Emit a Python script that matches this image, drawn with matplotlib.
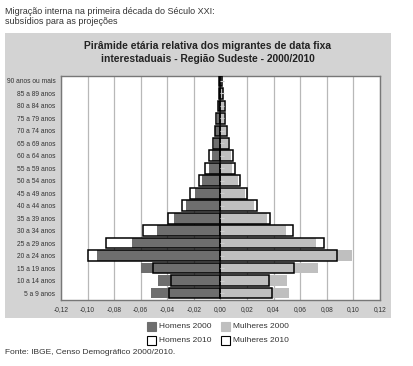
import matplotlib
matplotlib.use("Agg")
import matplotlib.pyplot as plt
from matplotlib.patches import Rectangle
import numpy as np

plt.rcParams['font.family'] = ['Liberation Sans', 'DejaVu Sans']

categories = ["5 a 9 anos", "10 a 14 anos", "15 a 19 anos", "20 a 24 anos", "25 a 29 anos",
              "30 a 34 anos", "35 a 39 anos", "40 a 44 anos", "45 a 49 anos", "50 a 54 anos",
              "55 a 59 anos", "60 a 64 anos", "65 a 69 anos", "70 a 74 anos", "75 a 79 anos",
              "80 a 84 anos", "85 a 89 anos", "90 anos ou mais"]
homens_2000 = [-0.0525, -0.047, -0.060, -0.093, -0.0665, -0.048, -0.035, -0.026, -0.019, -0.0138,
               -0.009, -0.0063, -0.0050, -0.0042, -0.0025, -0.0018, -0.0013, -0.0005]
mulheres_2000 = [0.0518, 0.050, 0.0735, 0.099, 0.072, 0.049, 0.0353, 0.0253, 0.0183, 0.013,
                 0.0083, 0.008, 0.0058, 0.004, 0.0025, 0.0023, 0.0018, 0.0008]
homens_2010 = [-0.0388, -0.037, -0.0508, -0.0995, -0.086, -0.058, -0.0395, -0.029, -0.023, -0.0158,
               -0.012, -0.009, -0.0053, -0.0045, -0.0035, -0.002, -0.0015, -0.001]
mulheres_2010 = [0.0388, 0.0365, 0.055, 0.088, 0.078, 0.0545, 0.0373, 0.0275, 0.020, 0.0145,
                 0.011, 0.0095, 0.0065, 0.005, 0.0035, 0.0035, 0.0022, 0.0013]
xticks = [-0.12, -0.10, -0.08, -0.06, -0.04, -0.02, 0.0, 0.02, 0.04, 0.06, 0.08, 0.10, 0.12]
xticklabels = ["-0,12", "-0,10", "-0,08", "-0,06", "-0,04", "-0,02", "0,00", "0,02", "0,04",
               "0,06", "0,08", "0,10", "0,12"]

W, H = 414, 366
fig = plt.figure(figsize=(W / 100, H / 100), dpi=100)
fig.patch.set_facecolor("white")

def fx(px):
    return px / W

def fy(py):
    return 1 - py / H

# grey panel
fig.patches.append(Rectangle((fx(5), fy(318)), fx(386), 285 / H, transform=fig.transFigure,
                             facecolor="#d3d3d3", edgecolor="none", zorder=-5))

fig.text(fx(5), fy(11), "Migração interna na primeira década do Século XXI:", fontsize=6.5,
         color="#333333", va="center", ha="left")
fig.text(fx(5), fy(22), "subsídios para as projeções", fontsize=6.5,
         color="#333333", va="center", ha="left")
fig.text(fx(208), fy(46), "Pirâmide etária relativa dos migrantes de data fixa", fontsize=7.4,
         fontweight="bold", color="#222222", va="center", ha="center")
fig.text(fx(208), fy(59), "interestaduais - Região Sudeste - 2000/2010", fontsize=7.4,
         fontweight="bold", color="#222222", va="center", ha="center")

ax = fig.add_axes([fx(61), fy(300), fx(380 - 61), (300 - 76) / H])
ax.set_zorder(2)
ax.set_facecolor("white")
y = np.arange(len(categories))
h = 0.86
dark = "#6e6e6e"
light = "#bfbfbf"

# 2010 fill (white) behind
ax.barh(y, homens_2010, height=h, color="white", edgecolor="none", zorder=2)
ax.barh(y, mulheres_2010, height=h, color="white", edgecolor="none", zorder=2)
# 2000 filled
ax.barh(y, homens_2000, height=h, color=dark, edgecolor="none", zorder=3)
ax.barh(y, mulheres_2000, height=h, color=light, edgecolor="none", zorder=3)
# 2010 outlines on top
ax.barh(y, homens_2010, height=h, fill=False, edgecolor="black", linewidth=1.1, zorder=4)
ax.barh(y, mulheres_2010, height=h, fill=False, edgecolor="black", linewidth=1.1, zorder=4)
# small tick marks at zero
ax.plot(np.full(len(categories), 0.0015), y, linestyle="none", marker="_", markersize=3,
        color="#cfcfcf", zorder=5, markeredgewidth=0.8)

ax.set_xlim(-0.12, 0.12)
ax.set_ylim(-0.56, len(categories) - 0.6)
ax.set_xticks(xticks)
ax.set_xticklabels(xticklabels)
ax.set_yticks(y)
ax.set_yticklabels(categories)
ax.tick_params(axis="both", length=0, labelsize=4.8, colors="#333333")
ax.tick_params(axis="x", pad=4)
ax.tick_params(axis="y", pad=4)
ax.xaxis.grid(True, color="#b8b8b8", linewidth=0.9, zorder=1)
ax.set_axisbelow(True)
for s in ax.spines.values():
    s.set_color("#777777")
    s.set_linewidth(1.0)

# legend
def legend_item(px, py, face, label):
    fig.patches.append(Rectangle((fx(px), fy(py + 4.5)), fx(9), 9 / H, transform=fig.transFigure,
                                 facecolor=face, edgecolor=("black" if face == "white" else face),
                                 linewidth=0.8, zorder=2))
    fig.text(fx(px + 12), fy(py), label, fontsize=6, color="#333333", va="center", ha="left")

legend_item(147, 326, dark, "Homens 2000")
legend_item(221, 326, light, "Mulheres 2000")
legend_item(147, 340, "white", "Homens 2010")
legend_item(221, 340, "white", "Mulheres 2010")

fig.text(fx(5), fy(353), "Fonte: IBGE, Censo Demográfico 2000/2010.", fontsize=6,
         color="#333333", va="center", ha="left")

fig.savefig("out.png", dpi=100)
